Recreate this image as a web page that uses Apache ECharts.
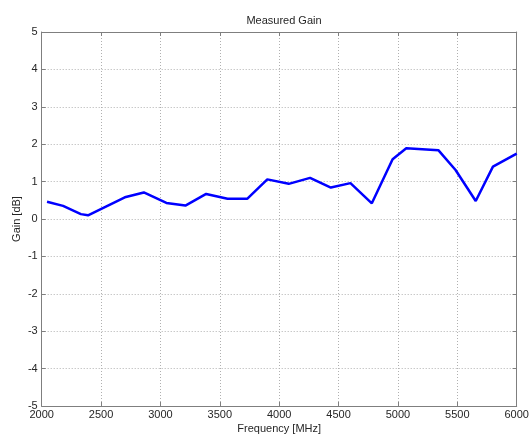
<!DOCTYPE html>
<html>
<head>
<meta charset="utf-8">
<script src="https://cdn.jsdelivr.net/npm/echarts@6/dist/echarts.min.js"></script>
<style>html,body{margin:0;padding:0;background:#fff}#c{width:529px;height:437px}</style>
</head>
<body>
<div id="c"></div>
<script>
var frequencies = [2045, 2180, 2330, 2390, 2700, 2860, 3050, 3210, 3385, 3565, 3730, 3900, 4080, 4260, 4435, 4600, 4780, 4955, 5070, 5340, 5485, 5655, 5800, 6000];
var gains = [0.46, 0.35, 0.13, 0.10, 0.58, 0.71, 0.43, 0.36, 0.67, 0.54, 0.54, 1.06, 0.94, 1.10, 0.84, 0.96, 0.42, 1.60, 1.89, 1.84, 1.31, 0.48, 1.40, 1.75];
var titleText = 'Measured Gain';
var xName = 'Frequency [MHz]';
var yName = 'Gain [dB]';

var data = frequencies.map(function (f, i) { return [f, gains[i]]; });
var font = 'Liberation Sans, Arial, sans-serif';
var axisCol = '#7f7f7f';
var textCol = '#262626';
var chart = echarts.init(document.getElementById('c'), null, {renderer: 'canvas'});
var tickStyle = {show: true, inside: true, length: 4, lineStyle: {color: axisCol}};
chart.setOption({
  animation: false,
  backgroundColor: '#fff',
  title: {text: titleText, left: 279, top: 10, textAlign: 'center',
    textStyle: {fontFamily: font, fontSize: 11, fontWeight: 'normal', color: textCol}},
  grid: {left: 41.7, right: 12.3, top: 32, bottom: 31, containLabel: false, outerBoundsMode: 'none'},
  xAxis: [{
    type: 'value', min: 2000, max: 6000, interval: 500,
    name: xName, nameLocation: 'middle', nameGap: 17, nameMoveOverlap: false,
    nameTextStyle: {fontFamily: font, fontSize: 11, color: textCol},
    axisLine: {show: true, onZero: false, lineStyle: {color: axisCol}},
    axisTick: tickStyle,
    axisLabel: {fontFamily: font, fontSize: 11, color: textCol, margin: 3,
      formatter: function (v) { return String(v); }},
    splitLine: {show: true, lineStyle: {color: '#b0b0b0', type: [1, 2], width: 1}}
  }, {
    type: 'value', position: 'top', min: 2000, max: 6000, interval: 500,
    axisLine: {show: true, onZero: false, lineStyle: {color: axisCol}},
    axisTick: tickStyle, axisLabel: {show: false}, splitLine: {show: false}
  }],
  yAxis: [{
    type: 'value', min: -5, max: 5, interval: 1,
    name: yName, nameLocation: 'middle', nameGap: 19, nameMoveOverlap: false,
    nameTextStyle: {fontFamily: font, fontSize: 11, color: textCol},
    axisLine: {show: true, onZero: false, lineStyle: {color: axisCol}},
    axisTick: tickStyle,
    axisLabel: {fontFamily: font, fontSize: 11, color: textCol, margin: 4},
    splitLine: {show: true, lineStyle: {color: '#b0b0b0', type: [1, 2], width: 1}}
  }, {
    type: 'value', position: 'right', min: -5, max: 5, interval: 1,
    axisLine: {show: true, onZero: false, lineStyle: {color: axisCol}},
    axisTick: tickStyle, axisLabel: {show: false}, splitLine: {show: false}
  }],
  series: [{
    type: 'line', data: data, showSymbol: false, symbol: 'none',
    lineStyle: {color: '#0000ff', width: 2.5},
    itemStyle: {color: '#0000ff'}
  }]
});
</script>
</body>
</html>
